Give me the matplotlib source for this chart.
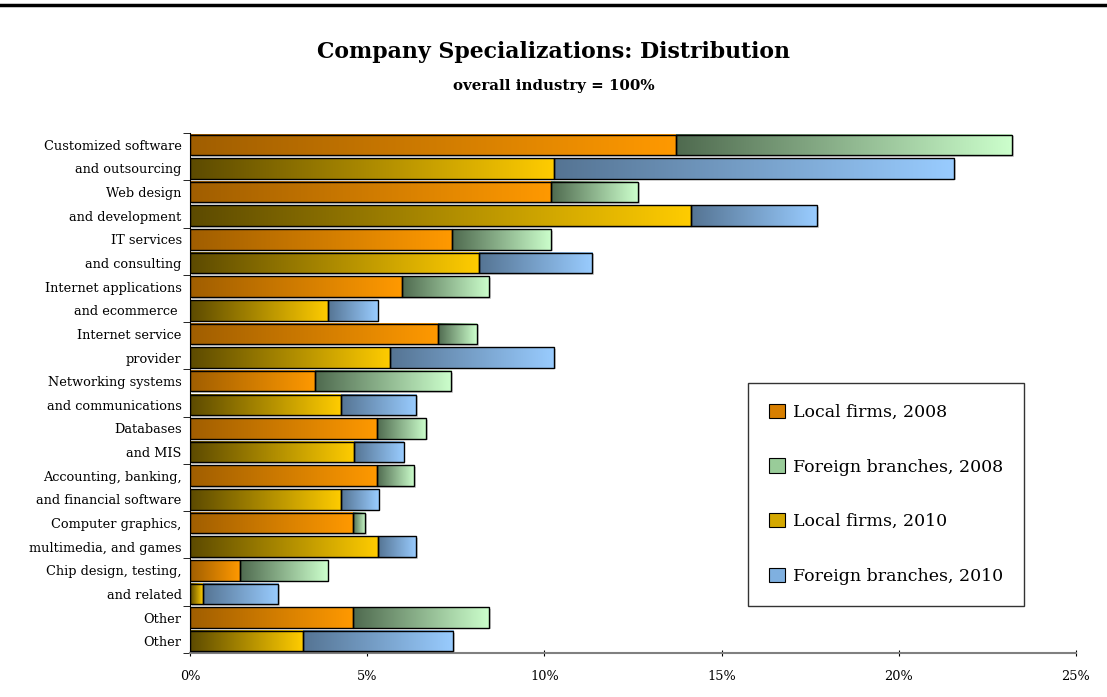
import numpy as np
import matplotlib
matplotlib.use("Agg")
import matplotlib.pyplot as plt
import matplotlib.patheffects as pe
from matplotlib.colors import LinearSegmentedColormap
from matplotlib.patches import Patch
from matplotlib.lines import Line2D

plt.rcParams["font.family"] = "DejaVu Serif"

# data (% of overall industry)
row_labels = [
    "Customized software", "and outsourcing",
    "Web design", "and development",
    "IT services", "and consulting",
    "Internet applications", "and ecommerce ",
    "Internet service", "provider",
    "Networking systems", "and communications",
    "Databases", "and MIS",
    "Accounting, banking,", "and financial software",
    "Computer graphics,", "multimedia, and games",
    "Chip design, testing,", "and related",
    "Other", "Other",
]
local_2008 = [13.71, 10.19, 7.39, 5.98, 7.01, 3.53, 5.28, 5.28, 4.59, 1.40, 4.59]
foreign_2008 = [9.48, 2.45, 2.80, 2.46, 1.09, 3.84, 1.39, 1.05, 0.35, 2.48, 3.85]
local_2010 = [10.27, 14.14, 8.15, 3.90, 5.65, 4.26, 4.62, 4.27, 5.31, 0.36, 3.18]
foreign_2010 = [11.29, 3.55, 3.19, 1.40, 4.63, 2.13, 1.41, 1.05, 1.08, 2.13, 4.25]
series_names = ["Local firms, 2008", "Foreign branches, 2008",
                "Local firms, 2010", "Foreign branches, 2010"]

# gradients dark -> light, left to right
cmaps = {
    "l08": LinearSegmentedColormap.from_list("l08", ["#a05e00", "#ff9900"]),
    "f08": LinearSegmentedColormap.from_list("f08", ["#4f6a4f", "#ccffcc"]),
    "l10": LinearSegmentedColormap.from_list("l10", ["#5c4a00", "#ffcc00"]),
    "f10": LinearSegmentedColormap.from_list("f10", ["#557493", "#99ccff"]),
}
grad = np.linspace(0, 1, 256).reshape(1, -1)

fig = plt.figure(figsize=(11.07, 6.97), dpi=100)
ax = fig.add_axes([190 / 1107, 44 / 697, 886 / 1107, 520 / 697])

y08 = np.arange(len(local_2008)) * 2
y10 = y08 + 1
h = 0.87

def grad_bars(bars, cmap):
    for b in bars:
        x0, y0 = b.get_x(), b.get_y()
        w, hh = b.get_width(), b.get_height()
        ax.imshow(grad, cmap=cmap, aspect="auto", zorder=2,
                  extent=[x0, x0 + w, y0 + hh, y0], interpolation="bilinear")

# shadows
tot08 = np.array(local_2008) + np.array(foreign_2008)
tot10 = np.array(local_2010) + np.array(foreign_2010)
shadow = [pe.SimplePatchShadow(offset=(1.2, -1.2), shadow_rgbFace="#a0a0a0", alpha=0.5)]
ax.barh(y08, tot08, height=h, facecolor="none", edgecolor="none",
        path_effects=shadow, zorder=1)
ax.barh(y10, tot10, height=h, facecolor="none", edgecolor="none",
        path_effects=shadow, zorder=1)

b1 = ax.barh(y08, local_2008, height=h, facecolor="none", edgecolor="black", lw=1, zorder=3)
b2 = ax.barh(y08, foreign_2008, left=local_2008, height=h, facecolor="none",
             edgecolor="black", lw=1, zorder=3)
b3 = ax.barh(y10, local_2010, height=h, facecolor="none", edgecolor="black", lw=1, zorder=3)
b4 = ax.barh(y10, foreign_2010, left=local_2010, height=h, facecolor="none",
             edgecolor="black", lw=1, zorder=3)
grad_bars(b1, cmaps["l08"])
grad_bars(b2, cmaps["f08"])
grad_bars(b3, cmaps["l10"])
grad_bars(b4, cmaps["f10"])

ax.set_xlim(0, 25)
ax.set_ylim(len(row_labels) - 0.5, -0.5)

ax.set_yticks(np.arange(len(row_labels)))
ax.set_yticklabels(row_labels, fontsize=9.3)
ax.set_yticks(np.arange(-0.5, len(row_labels), 2), minor=True)
ax.tick_params(axis="y", which="major", length=0, pad=6)
ax.tick_params(axis="y", which="minor", length=5, direction="out", color="black")

ax.set_xticks(np.arange(0, 26, 5))
ax.set_xticklabels([f"{v}%" for v in range(0, 26, 5)], fontsize=9.3)
ax.tick_params(axis="x", length=5, direction="inout", pad=10, color="black")

for s in ["top", "right"]:
    ax.spines[s].set_visible(False)
ax.spines["left"].set_color("black")
ax.spines["bottom"].set_color("#808080")
ax.spines["bottom"].set_linewidth(1.5)

handles = [Patch(facecolor=c, edgecolor="black", lw=0.8)
           for c in ["#d87f00", "#99cc99", "#d4a800", "#7fb0e0"]]
leg = ax.legend(handles, series_names, loc="upper left", bbox_to_anchor=(0.63, 0.519),
                fontsize=12.5, frameon=True, fancybox=False, edgecolor="black",
                handlelength=0.9, handleheight=0.9, handletextpad=0.5,
                labelspacing=2.15, borderpad=1.2, borderaxespad=0)
leg.get_frame().set_linewidth(1)

fig.text(0.5, 1 - 52 / 697, "Company Specializations: Distribution",
         ha="center", va="center", fontsize=15.8, fontweight="bold")
fig.text(0.5, 1 - 86 / 697, "overall industry = 100%",
         ha="center", va="center", fontsize=10.8, fontweight="bold")

fig.add_artist(Line2D([0, 1], [1 - 5 / 697, 1 - 5 / 697], color="black", lw=2.5))

fig.savefig("out.png", dpi=100)
